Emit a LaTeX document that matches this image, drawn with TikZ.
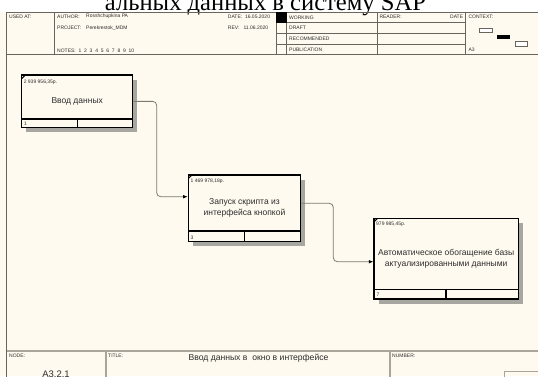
\documentclass[tikz,border=0pt]{standalone}
\usepackage{fontspec}
\setmainfont{Liberation Sans}
\newfontfamily\serifface{Liberation Serif}
\usetikzlibrary{arrows.meta}

\definecolor{paper}{RGB}{255,250,239}
\definecolor{rule}{RGB}{105,101,94}
\definecolor{softrule}{RGB}{170,165,154}
\definecolor{shade}{RGB}{168,166,160}
\definecolor{wire}{RGB}{125,121,114}
\definecolor{ink}{RGB}{45,45,45}

\begin{document}
\begin{tikzpicture}[x=1pt,y=-1pt,
  tiny/.style={font=\fontsize{5}{6}\selectfont, text=ink, anchor=west, inner sep=0pt},
  frameline/.style={draw=rule, line width=0.8pt},
  softline/.style={draw=softrule, line width=1.4pt},
  actbox/.style={draw=black, line width=1.2pt, fill=paper, align=center,
    font=\fontsize{8.5}{11}\selectfont, text=ink, inner sep=0pt},
  innerline/.style={draw=black, line width=1.1pt},
  shadow/.style={fill=shade},
  corner/.style={draw=black, line width=1.1pt},
  conn/.style={draw=wire, line width=0.8pt, rounded corners=4pt,
    -{Latex[black,length=4.5pt,width=3.6pt]}},
]
\useasboundingbox (0,0) rectangle (538,376);
\clip (0,0) rectangle (538,376);

% page and sheet background
\fill[white] (0,0) rectangle (538,12.3);
\fill[paper] (0,12.3) rectangle (538,376);

% caption line above the sheet
\node[font=\serifface\fontsize{24.6}{28}\selectfont, anchor=base, inner sep=0pt] (caption)
  at (265.5,10) {альных данных в систему SAP};

% ---------- header block ----------
\draw[frameline] (540,12.3) -- (6.7,12.3) -- (6.7,380);
\draw[frameline] (6.7,54.3) -- (540,54.3);
\foreach \x in {54,276,286.7,377.3,465.3}
  \draw[frameline] (\x,12.3) -- (\x,54.3);
\foreach \y in {22.7,33.3,44}
  \draw[frameline] (276,\y) -- (465.3,\y);
\fill[black] (276,12.3) rectangle (286.7,22.7);

\node[tiny] (usedat) at (9,16.7) {USED AT:};
\node[tiny] (author) at (57,16.7) {AUTHOR:};
\node[tiny] (authorv) at (86,16.7) {Rosshchupkina PA};
\node[tiny] (project) at (57,27.7) {PROJECT:};
\node[tiny] (projectv) at (86,27.7) {Perekrestok\_MDM};
\node[tiny] (notes) at (57,50.7) {NOTES:\ \ 1\ \ 2\ \ 3\ \ 4\ \ 5\ \ 6\ \ 7\ \ 8\ \ 9\ \ 10};
\node[tiny] (date) at (227.7,16.7) {DATE:\ \ 16.05.2020};
\node[tiny] (rev) at (227.7,27.7) {REV:\ \ \ 11.06.2020};
\node[tiny] (working) at (289,17.5) {WORKING};
\node[tiny] (draft) at (289,28) {DRAFT};
\node[tiny] (recommended) at (289,38.7) {RECOMMENDED};
\node[tiny] (publication) at (289,49.3) {PUBLICATION};
\node[tiny] (reader) at (379.3,17.2) {READER:};
\node[tiny, anchor=east] (rdate) at (463.3,17.2) {DATE};
\node[tiny] (context) at (468.3,17.2) {CONTEXT:};
\node[tiny] (sheet) at (468.3,50.2) {A3};

% context thumbnail
\draw[draw=rule, fill=white, line width=0.6pt] (479,28) rectangle (492,32.3);
\fill[black] (496.7,34.7) rectangle (510,39);
\draw[draw=rule, fill=white, line width=0.6pt] (515,41.7) rectangle (527.7,46);

% ---------- footer block ----------
\draw[softline] (6.7,351) -- (540,351);
\draw[softline] (106,351) -- (106,380);
\draw[softline] (390,351) -- (390,380);
\draw[draw=softrule, line width=0.8pt] (540,371.3) -- (504,371.3) -- (504,380);

\node[tiny] (nodelbl) at (9,355.5) {NODE:};
\node[tiny] (titlelbl) at (108,355.5) {TITLE:};
\node[tiny] (numberlbl) at (392,355.5) {NUMBER:};
\node[font=\fontsize{8.6}{10}\selectfont, text=ink, inner sep=0pt] (title)
  at (258.5,358.5) {Ввод данных в\ \ окно в интерфейсе};
\node[font=\fontsize{9.5}{11}\selectfont, text=ink, inner sep=0pt, anchor=north] (nodenum)
  at (56,370.5) {А3.2.1};

% ---------- activity 1 ----------
\fill[shadow] (26.2,79.5) rectangle (137.2,132.2);
\node[actbox, minimum width=111pt, minimum height=52.7pt] (b1) at (77.2,101.35) {Ввод данных};
\draw[innerline] (21.7,119) -- (132.7,119);
\draw[innerline] (77.7,119) -- (77.7,127.7);
\draw[corner] (21.9,78.4) -- (25.1,75.2);
\node[tiny] (cost1) at (23.6,82) {2 939 956,35р.};
\node[tiny] (num1) at (24,123.3) {1};

% ---------- activity 3 ----------
\fill[shadow] (192.8,179.5) rectangle (305.2,246.2);
\node[actbox, minimum width=112.4pt, minimum height=66.7pt] (b2) at (244.5,208.35)
  {Запуск скрипта из\\интерфейса кнопкой};
\draw[innerline] (188.3,231) -- (300.7,231);
\draw[innerline] (244.3,231) -- (244.3,241.7);
\draw[corner] (188.5,178.4) -- (191.7,175.2);
\node[tiny] (cost2) at (190.5,181) {1 469 978,18р.};
\node[tiny] (num2) at (190.5,237.3) {3};

% ---------- activity 7 ----------
\fill[shadow] (378.5,222.8) rectangle (522.8,303.5);
\node[actbox, minimum width=144.3pt, minimum height=80.7pt] (b3) at (446.15,258.65)
  {Автоматическое обогащение базы\\актуализированными данными};
\draw[innerline] (374,289.3) -- (518.3,289.3);
\draw[innerline] (446,289.3) -- (446,299);
\draw[corner] (374.2,221.7) -- (377.4,218.5);
\node[tiny] (cost3) at (376,224.3) {979 985,45р.};
\node[tiny] (num3) at (376.5,294.3) {7};

% ---------- connectors ----------
\coordinate (bend1) at (156.7,196.7);
\draw[conn] (b1.east) -| (bend1) -- (b2.west |- bend1);

\coordinate (exit2) at (0,203.3);
\coordinate (bend2) at (333.3,261.7);
\draw[conn] (b2.east |- exit2) -| (bend2) -- (b3.west |- bend2);

\end{tikzpicture}
\end{document}
